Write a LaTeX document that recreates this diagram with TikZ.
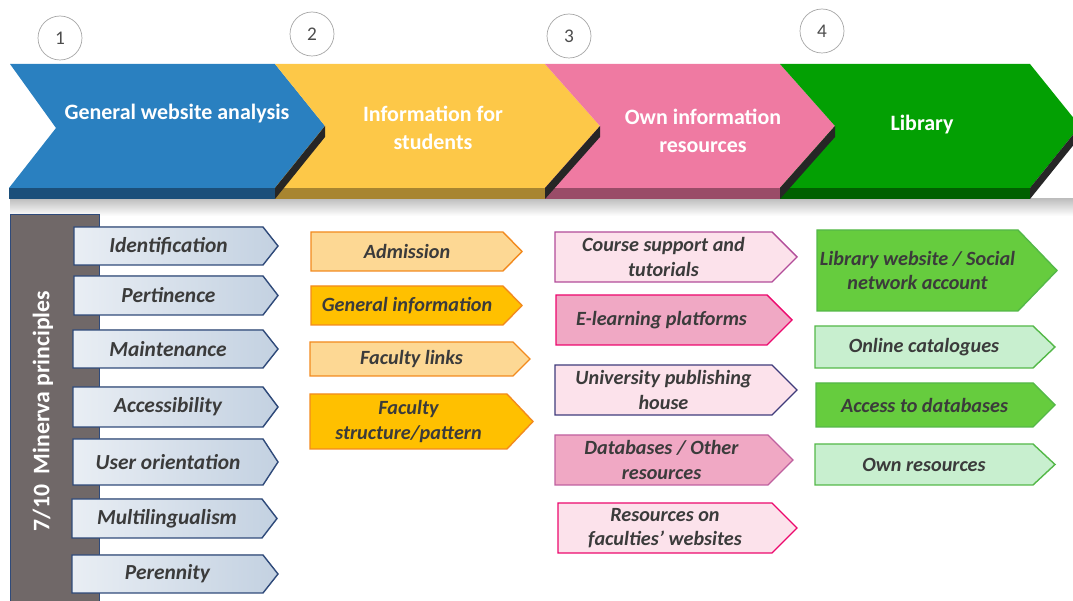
\documentclass[tikz,border=0pt]{standalone}
\usepackage{fontspec}
\setmainfont{Carlito}

\definecolor{cblue}{HTML}{2A80C0}
\definecolor{cbluedk}{HTML}{1B4F7A}
\definecolor{cyel}{HTML}{FDC848}
\definecolor{cyeldk}{HTML}{A88530}
\definecolor{cpink}{HTML}{EF7AA2}
\definecolor{cpinkdk}{HTML}{9A4C68}
\definecolor{cgreen}{HTML}{03A003}
\definecolor{cgreendk}{HTML}{006000}
\definecolor{barg}{HTML}{706868}
\definecolor{navyb}{HTML}{2F4A7A}
\definecolor{txt}{HTML}{3B3B3B}
\definecolor{peach}{HTML}{FDD894}
\definecolor{amber}{HTML}{FFC000}
\definecolor{orng}{HTML}{F28A1E}
\definecolor{pinkl}{HTML}{FCE2EB}
\definecolor{pinkm}{HTML}{F0A8C4}
\definecolor{greenb}{HTML}{66CC3E}
\definecolor{greenl}{HTML}{C8EFCF}
\definecolor{greenln}{HTML}{54B848}
\definecolor{slatel}{HTML}{E9EEF4}
\definecolor{slated}{HTML}{C3D1E1}

% one arrow-shaped box: name, style, left, top, right, bottom, tip, text
\newcommand{\tagbox}[9][itemtext]{%
  \filldraw[#3] (#4,#5) -- (#6,#5) -- (#6+#8,{(#5+#7)/2}) -- (#6,#7) -- (#4,#7) -- cycle;
  \node[#1] (#2) at ({(#4+#6)/2},{(#5+#7)/2}) {#9};
}

\tikzset{
  itemtext/.style={font=\fontsize{11.5}{13.8}\selectfont\bfseries\itshape, text=txt, align=center},
  lefttext/.style={itemtext, font=\fontsize{12.2}{14}\selectfont\bfseries\itshape},
  headtext/.style={font=\fontsize{12.5}{16}\selectfont\bfseries, text=white, align=center},
  num/.style={circle, draw=black!35, minimum size=0.88cm, inner sep=0pt, text=black!70, font=\fontsize{11}{13}\selectfont},
  leftitem/.style={draw=navyb, line width=0.8pt, left color=slatel, right color=slated},
  yl/.style={draw=orng, line width=0.8pt, fill=peach},
  yd/.style={draw=orng, line width=0.8pt, fill=amber},
  gb/.style={draw=greenln, line width=0.8pt, fill=greenb},
  gl/.style={draw=greenln, line width=0.8pt, fill=greenl},
}

\begin{document}
\begin{tikzpicture}[x=0.02cm, y=-0.02cm]
\useasboundingbox (0,0) rectangle (1073,601);

% step numbers
\node[num] (n1) at (60,38) {1};
\node[num] (n2) at (312,34) {2};
\node[num] (n3) at (569,36) {3};
\node[num] (n4) at (822,31) {4};

% band of chevrons
\shade[top color=black!25, bottom color=white] (10,199) rectangle (1073,216);
\fill[cbluedk] (9,188) rectangle (275,199);
\fill[cyeldk] (275,188) rectangle (545,199);
\fill[cpinkdk] (545,188) rectangle (780,199);
\fill[cgreendk] (780,188) rectangle (1030,199);
\fill[cblue] (10,64) -- (275,64) -- (325,126) -- (275,188) -- (9,188) -- (56,128) -- cycle;
\fill[cyel] (275,64) -- (545,64) -- (600,126) -- (545,188) -- (275,188) -- (325,126) -- cycle;
\fill[cpink] (545,64) -- (780,64) -- (835,126) -- (780,188) -- (545,188) -- (600,126) -- cycle;
\fill[cgreen] (780,64) -- (1030,64) -- (1080,126) -- (1030,188) -- (780,188) -- (835,126) -- cycle;
\fill[black!85] (325,126) -- (325,137) -- (275,199) -- (275,188) -- cycle;
\fill[black!85] (600,126) -- (600,137) -- (545,199) -- (545,188) -- cycle;
\fill[black!85] (835,126) -- (835,137) -- (780,199) -- (780,188) -- cycle;
\fill[black!85] (1080,126) -- (1080,137) -- (1030,199) -- (1030,188) -- cycle;
\node[headtext] (gen) at (177,114) {General website analysis};
\node[headtext] (info) at (433,128) {Information for\\students};
\node[headtext] (own) at (703,131) {Own information\\resources};
\node[headtext] (lib) at (922,125) {Library};

% Minerva principles
\fill[barg] (10,214) rectangle (99,601);
\draw[navyb] (10,601) -- (10,214) -- (99,214) -- (99,601);
\node[rotate=90, text=white, font=\fontsize{13.5}{15}\selectfont\bfseries] (minerva) at (43,411) {7/10\ \ Minerva principles};
\tagbox[lefttext]{ident}{leftitem}{74}{227}{263}{265}{15}{Identification}
\tagbox[lefttext]{pert}{leftitem}{74}{276}{263}{315}{15}{Pertinence}
\tagbox[lefttext]{maint}{leftitem}{73}{330}{263}{368}{15}{Maintenance}
\tagbox[lefttext]{access}{leftitem}{73}{387}{263}{427}{15}{Accessibility}
\tagbox[lefttext]{user}{leftitem}{73}{439}{263}{485}{15}{User orientation}
\tagbox[lefttext]{multi}{leftitem}{72}{499}{262}{538}{15}{Multilingualism}
\tagbox[lefttext]{peren}{leftitem}{72}{555}{263}{593}{15}{Perennity}

% students
\tagbox{adm}{yl}{311}{232}{503}{271}{19}{Admission}
\tagbox{geninf}{yd}{311}{286}{503}{325}{19}{General information}
\tagbox{faclink}{yl}{310}{342}{513}{376}{17}{Faculty links}
\tagbox{facstr}{yd}{310}{394}{507}{449}{26}{Faculty\\structure/pattern}

% own resources
\tagbox{course}{draw=violet!60!pink, line width=0.8pt, fill=pinkl}{555}{232}{772}{282}{25}{Course support and\\tutorials}
\tagbox{elearn}{draw=magenta!70!red, line width=0.8pt, fill=pinkm}{556}{295}{767}{345}{25}{E-learning platforms}
\tagbox{press}{draw=navyb!80!violet, line width=0.8pt, fill=pinkl}{555}{365}{772}{415}{25}{University publishing\\house}
\tagbox{dbother}{draw=violet!50!pink, line width=0.8pt, fill=pinkm}{555}{435}{768}{485}{25}{Databases / Other\\resources}
\tagbox{facweb}{draw=magenta!70!red, line width=0.8pt, fill=pinkl}{558}{503}{772}{553}{25}{Resources on\\faculties’ websites}

% library
\tagbox{libweb}{gb}{817}{230}{1018}{311}{39}{Library website / Social\\network account}
\tagbox{opac}{gl}{815}{326}{1033}{368}{22}{Online catalogues}
\tagbox{dbacc}{gb}{816}{383}{1033}{427}{22}{Access to databases}
\tagbox{ownres}{gl}{815}{444}{1033}{485}{22}{Own resources}
\end{tikzpicture}
\end{document}
